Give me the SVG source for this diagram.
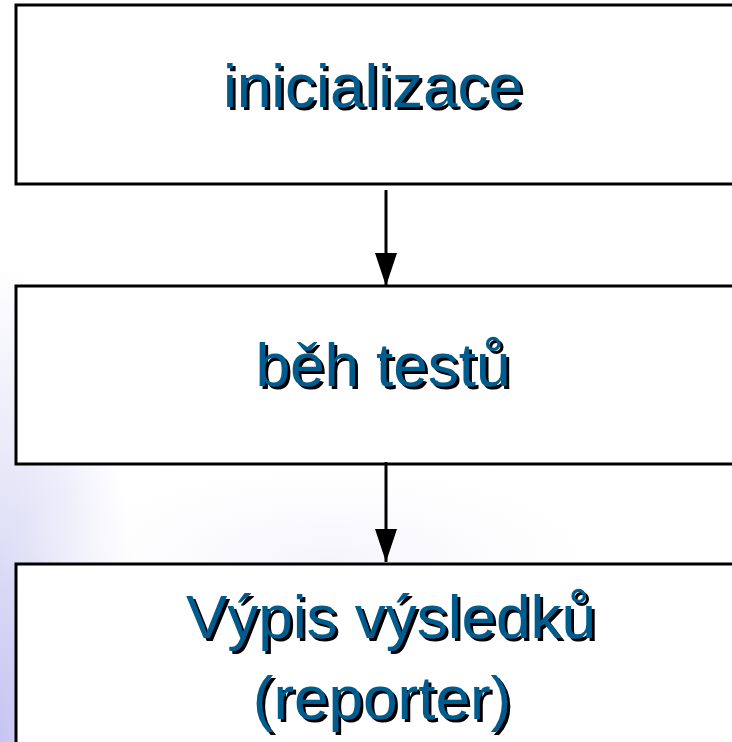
<svg xmlns="http://www.w3.org/2000/svg" width="732" height="742" viewBox="0 0 732 742">
  <defs>
    <radialGradient id="bgGlow" cx="0" cy="742" r="480" gradientUnits="userSpaceOnUse" gradientTransform="translate(0 742) scale(0.3 1) translate(0 -742)">
      <stop offset="0" stop-color="#c4c4f2"/>
      <stop offset="0.5" stop-color="#e4e4f8"/>
      <stop offset="1" stop-color="#ffffff"/>
    </radialGradient>
    <radialGradient id="swoosh" cx="330" cy="560" r="330" gradientUnits="userSpaceOnUse" gradientTransform="translate(330 560) scale(1 0.35) translate(-330 -560)">
      <stop offset="0" stop-color="#f4f4fb"/>
      <stop offset="1" stop-color="#ffffff" stop-opacity="0"/>
    </radialGradient>
    <filter id="shadow" x="-10%" y="-20%" width="120%" height="150%">
      <feOffset in="SourceAlpha" dx="3" dy="3" result="off"/>
      <feFlood flood-color="#000000"/>
      <feComposite in2="off" operator="in" result="sh"/>
      <feMerge>
        <feMergeNode in="sh"/>
        <feMergeNode in="SourceGraphic"/>
      </feMerge>
    </filter>
    <marker id="arrow" markerWidth="33" markerHeight="22" refX="33" refY="11" orient="auto" markerUnits="userSpaceOnUse" viewBox="0 0 33 22">
      <path d="M0,0 L33,11 L0,22 Z" fill="#000"/>
    </marker>
    <style>
      .box { fill: #ffffff; stroke: #000000; stroke-width: 3; }
      .lbl { font-family: "Liberation Sans", Arial, sans-serif; font-size: 62px; text-anchor: middle; fill: #005b8c; filter: url(#shadow); }
      .conn { stroke: #000000; stroke-width: 3; fill: none; }
    </style>
  </defs>

  <rect x="0" y="0" width="732" height="742" fill="#ffffff"/>
  <rect x="0" y="0" width="732" height="742" fill="url(#bgGlow)"/>
  <rect x="0" y="440" width="732" height="140" fill="url(#swoosh)"/>

  <g id="node-inicializace">
    <rect class="box" x="16" y="5" width="740" height="179"/>
    <text class="lbl" x="373" y="107">inicializace</text>
  </g>

  <g id="node-beh-testu">
    <rect class="box" x="16" y="286" width="740" height="178"/>
    <text class="lbl" x="383" y="386">běh testů</text>
  </g>

  <g id="node-vypis">
    <rect class="box" x="16" y="564" width="740" height="200"/>
    <text class="lbl" x="391" y="638">Výpis výsledků</text>
    <text class="lbl" x="382" y="719">(reporter)</text>
  </g>

  <g id="connectors">
    <line class="conn" x1="386" y1="190" x2="386" y2="286" marker-end="url(#arrow)"/>
    <line class="conn" x1="386" y1="462" x2="386" y2="562" marker-end="url(#arrow)"/>
  </g>
</svg>
